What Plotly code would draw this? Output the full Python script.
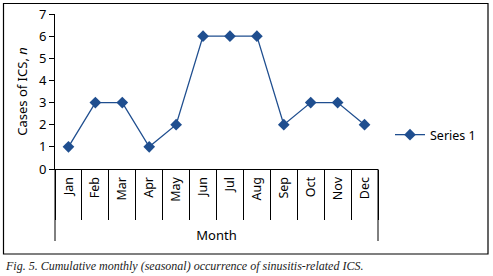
import plotly.graph_objects as go

months = ["Jan", "Feb", "Mar", "Apr", "May", "Jun", "Jul", "Aug", "Sep", "Oct", "Nov", "Dec"]
cases = [1, 3, 3, 1, 2, 6, 6, 6, 2, 3, 3, 2]
series_name = "Series 1"
y_ticks = [0, 1, 2, 3, 4, 5, 6, 7]

W, H = 493, 276
L, R, T, B = 55, 115, 14, 107
pw, ph = W - L - R, H - T - B

def px_x(x):
    return (x - L) / pw

def px_y(y):
    return (H - B - y) / ph

color = "#1F4E8F"
font = "Noto Sans"

fig = go.Figure()
fig.add_trace(go.Scatter(
    x=months, y=cases, mode="lines+markers", name=series_name,
    line=dict(color=color, width=1.3),
    marker=dict(symbol="diamond", size=9, color=color),
))

fig.update_layout(
    width=W, height=H,
    margin=dict(l=L, r=R, t=T, b=B, pad=0, autoexpand=False),
    paper_bgcolor="white", plot_bgcolor="white",
    font=dict(family=font, size=12, color="black"),
    showlegend=True,
    legend=dict(x=px_x(390), y=px_y(135), xanchor="left", yanchor="middle",
                font=dict(size=12.5), itemwidth=30, bgcolor="rgba(0,0,0,0)"),
    xaxis=dict(
        type="category", range=[-0.5, 11.5], showline=True, linecolor="black", linewidth=1,
        ticks="outside", tickson="boundaries", ticklen=50, tickcolor="black", tickwidth=1,
        tickangle=-90, tickfont=dict(size=12.5), ticklabelstandoff=2, automargin=False,
        showgrid=False, zeroline=False,
        title=dict(text="Month", font=dict(size=13), standoff=30),
    ),
    yaxis=dict(
        range=[0, 7], tickvals=y_ticks, showline=True, linecolor="black", linewidth=1,
        ticks="outside", ticklen=5, tickcolor="black", tickfont=dict(size=13),
        showgrid=False, zeroline=False, automargin=False,
        title=dict(text="Cases of ICS, <i>n</i>", font=dict(size=13), standoff=8),
    ),
)

# extended left/right edge lines of category table
for xp in (55, 378):
    fig.add_shape(type="line", xref="paper", yref="paper",
                  x0=px_x(xp), x1=px_x(xp), y0=px_y(169), y1=px_y(241),
                  line=dict(color="black", width=1))

# outer border
fig.add_shape(type="rect", xref="paper", yref="paper",
              x0=px_x(3.5), x1=px_x(488), y0=px_y(254), y1=px_y(3.5),
              line=dict(color="black", width=1.2))

fig.add_annotation(text="<i>Fig. 5. Cumulative monthly (seasonal) occurrence of sinusitis-related ICS.</i>",
                   xref="paper", yref="paper", x=px_x(3), y=px_y(266),
                   xanchor="left", yanchor="middle", showarrow=False,
                   font=dict(family="Liberation Serif", size=12, color="#222"))

fig.write_html("out.html", config={"displayModeBar": False},
               post_script="document.body.style.margin='0';document.body.style.overflow='hidden';")
